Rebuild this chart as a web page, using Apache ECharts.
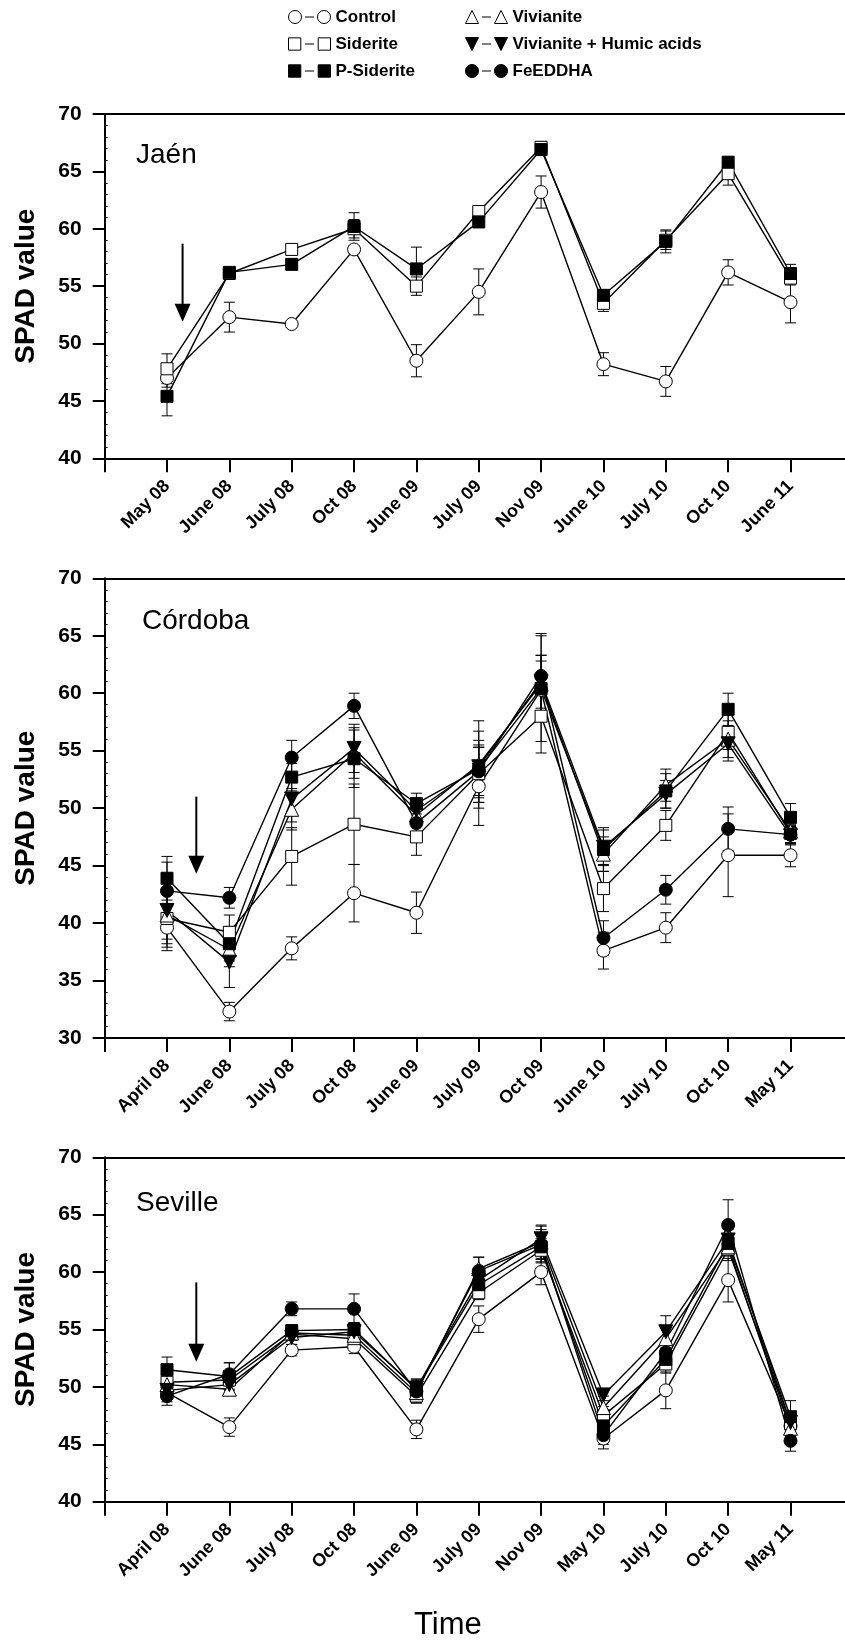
<!DOCTYPE html>
<html><head><meta charset="utf-8">
<script src="https://cdn.jsdelivr.net/npm/echarts@6/dist/echarts.min.js"></script>
<style>html,body{margin:0;padding:0;background:#fff}#c{width:845px;height:1641px}</style>
</head><body><div id="c"></div>
<script>
// ---------- DATA ----------
const treatments = ['Control','Siderite','P-Siderite','Vivianite','Vivianite + Humic acids','FeEDDHA'];

const jaenCats    = ['May 08','June 08','July 08','Oct 08','June 09','July 09','Nov 09','June 10','July 10','Oct 10','June 11'];
const cordobaCats = ['April 08','June 08','July 08','Oct 08','June 09','July 09','Oct 09','June 10','July 10','Oct 10','May 11'];
const sevilleCats = ['April 08','June 08','July 08','Oct 08','June 09','July 09','Nov 09','May 10','July 10','Oct 10','May 11'];

const yTicksJaen = [40,45,50,55,60,65,70];
const yTicksCordoba = [30,35,40,45,50,55,60,65,70];
const yTicksSeville = [40,45,50,55,60,65,70];

// Jaén
const jaenControl   = [47.0,52.3,51.7,58.2,48.5,54.5,63.2,48.2,46.7,56.2,53.6];
const jaenControlSE = [0.8,1.3,0.3,0.3,1.4,2.0,1.4,1.0,1.3,1.1,1.8];
const jaenSiderite   = [47.8,56.1,58.2,60.0,55.0,61.5,67.1,53.5,59.0,64.8,55.7];
const jaenSideriteSE = [1.3,0.3,0.3,0.8,0.8,0.5,0.5,0.7,0.8,1.0,0.6];
const jaenPSiderite   = [45.4,56.2,56.9,60.2,56.5,60.6,66.9,54.2,58.9,65.8,56.1];
const jaenPSideriteSE = [1.7,0.3,0.3,1.2,1.9,0.5,0.5,0.5,1.0,0.4,0.8];

// Córdoba
const cordControl   = [39.6,32.3,37.8,42.6,40.9,51.9,60.3,37.6,39.6,45.9,45.9];
const cordControlSE = [2.0,0.8,1.0,2.5,1.8,3.4,2.5,1.6,1.3,3.6,1.0];
const cordSiderite   = [40.4,39.2,45.8,48.6,47.5,53.0,58.0,43.0,48.5,56.6,47.8];
const cordSideriteSE = [2.2,1.5,2.5,3.5,1.6,2.5,3.2,2.0,1.3,1.5,0.8];
const cordPSiderite   = [43.9,38.2,52.7,54.3,50.4,53.4,60.4,46.4,51.5,58.6,49.2];
const cordPSideriteSE = [1.9,1.5,1.2,2.5,0.9,2.5,4.6,1.9,1.5,1.4,1.2];
const cordVivianite   = [40.7,37.7,49.9,54.8,49.4,53.8,60.8,46.0,52.0,56.0,48.0];
const cordVivianiteSE = [2.8,1.5,1.8,2.2,1.0,3.8,2.5,1.5,1.4,1.6,1.0];
const cordVivHA   = [41.1,36.6,50.8,55.2,49.8,53.6,61.0,46.6,51.2,55.6,47.6];
const cordVivHASE = [2.5,2.2,2.0,2.1,1.0,3.1,2.3,1.5,1.2,1.5,0.8];
const cordFe   = [42.8,42.2,54.4,58.9,48.7,53.2,61.5,38.7,42.9,48.2,47.7];
const cordFeSE = [2.5,0.9,1.5,1.1,1.5,2.1,3.7,1.5,1.25,1.9,0.8];

// Seville
const sevControl   = [49.5,46.5,53.2,53.5,46.3,55.9,60.0,45.5,49.7,59.3,46.6];
const sevControlSE = [0.8,0.8,0.5,0.6,0.8,1.15,1.1,0.9,1.6,1.9,0.8];
const sevSiderite   = [50.4,50.6,54.6,54.2,49.2,58.2,61.9,47.5,52.0,62.0,46.8];
const sevSideriteSE = [1.0,0.8,0.5,0.8,0.6,0.6,1.0,0.8,0.8,1.0,0.7];
const sevPSiderite   = [51.5,50.9,54.9,55.0,49.8,58.9,62.2,46.6,52.4,62.5,47.4];
const sevPSideriteSE = [1.1,1.2,0.5,0.6,0.9,0.6,1.0,0.8,0.9,0.7,1.4];
const sevVivianite   = [50.2,49.8,54.7,54.5,49.5,60.3,62.6,48.2,54.2,62.2,46.4];
const sevVivianiteSE = [0.9,0.5,0.6,0.7,0.8,1.0,1.1,1.0,1.0,0.8,0.7];
const sevVivHA   = [49.7,50.2,54.3,54.8,49.9,59.3,62.9,49.3,54.8,62.8,46.9];
const sevVivHASE = [0.8,0.8,0.6,0.8,0.7,0.8,1.2,0.5,1.4,0.9,0.8];
const sevFe   = [49.2,51.1,56.8,56.8,49.6,60.1,62.4,45.8,53.0,64.1,45.3];
const sevFeSE = [0.8,1.0,0.6,1.3,1.0,1.2,1.6,0.8,0.8,2.2,0.9];

// treatment application arrows: [x position in category units, top value, tip value]
const arrowJaen    = [1.25, 58.7, 51.9];
const arrowCordoba = [1.47, 51.0, 44.3];
const arrowSeville = [1.47, 59.1, 52.2];

const panelTitles = ['Jaén','Córdoba','Seville'];

// ---------- STYLE / LAYOUT ----------
const FONT = "'Liberation Sans', Arial, Helvetica, sans-serif";
const grids = [
  {left:104.65, width:748.2, top:114, height:344.3},
  {left:104.65, width:748.2, top:578.3, height:459.7},
  {left:104.65, width:748.2, top:1157.3, height:344.4}
];
const styleOf = {
  'Control':   {symbol:'circle',   size:13, rotate:0,   fill:'#fff'},
  'Siderite':  {symbol:'rect',     size:12, rotate:0,   fill:'#fff'},
  'P-Siderite':{symbol:'rect',     size:12, rotate:0,   fill:'#000'},
  'Vivianite': {symbol:'triangle', size:14, rotate:0,   fill:'#fff'},
  'Vivianite + Humic acids': {symbol:'triangle', size:14, rotate:180, fill:'#000'},
  'FeEDDHA':   {symbol:'circle',   size:13, rotate:0,   fill:'#000'}
};
const icons = {
  'Control':   'path://M0,6.5a6.5,6.5 0 1,0 13,0a6.5,6.5 0 1,0 -13,0M16.5,6.5L25.5,6.5M29,6.5a6.5,6.5 0 1,0 13,0a6.5,6.5 0 1,0 -13,0',
  'Siderite':  'path://M0.5,0.5L12.5,0.5L12.5,12.5L0.5,12.5ZM16.5,6.5L25.5,6.5M29.5,0.5L41.5,0.5L41.5,12.5L29.5,12.5Z',
  'P-Siderite':'path://M0.5,0.5L12.5,0.5L12.5,12.5L0.5,12.5ZM16.5,6.5L25.5,6.5M29.5,0.5L41.5,0.5L41.5,12.5L29.5,12.5Z',
  'Vivianite': 'path://M6.5,0L13,13L0,13ZM16.5,6.5L25.5,6.5M35.5,0L42,13L29,13Z',
  'Vivianite + Humic acids': 'path://M0,0L13,0L6.5,13ZM16.5,6.5L25.5,6.5M29,0L42,0L35.5,13Z',
  'FeEDDHA':   'path://M0,6.5a6.5,6.5 0 1,0 13,0a6.5,6.5 0 1,0 -13,0M16.5,6.5L25.5,6.5M29,6.5a6.5,6.5 0 1,0 13,0a6.5,6.5 0 1,0 -13,0'
};

const panels = [
  {cats:jaenCats, ticks:yTicksJaen, arrow:arrowJaen, data:[
    ['Control',jaenControl,jaenControlSE],['Siderite',jaenSiderite,jaenSideriteSE],['P-Siderite',jaenPSiderite,jaenPSideriteSE]]},
  {cats:cordobaCats, ticks:yTicksCordoba, arrow:arrowCordoba, data:[
    ['Control',cordControl,cordControlSE],['Siderite',cordSiderite,cordSideriteSE],['Vivianite',cordVivianite,cordVivianiteSE],
    ['Vivianite + Humic acids',cordVivHA,cordVivHASE],['P-Siderite',cordPSiderite,cordPSideriteSE],['FeEDDHA',cordFe,cordFeSE]]},
  {cats:sevilleCats, ticks:yTicksSeville, arrow:arrowSeville, data:[
    ['Control',sevControl,sevControlSE],['Siderite',sevSiderite,sevSideriteSE],['Vivianite',sevVivianite,sevVivianiteSE],
    ['Vivianite + Humic acids',sevVivHA,sevVivHASE],['P-Siderite',sevPSiderite,sevPSideriteSE],['FeEDDHA',sevFe,sevFeSE]]}
];

function errRender(params, api){
  const x = api.value(0), lo = api.value(1), hi = api.value(2);
  const p1 = api.coord([x, lo]), p2 = api.coord([x, hi]);
  const hw = 5.5, st = {stroke:'#000', lineWidth:1};
  return {type:'group', children:[
    {type:'line', shape:{x1:p1[0],y1:p1[1],x2:p2[0],y2:p2[1]}, style:st},
    {type:'line', shape:{x1:p1[0]-hw,y1:p1[1],x2:p1[0]+hw,y2:p1[1]}, style:st},
    {type:'line', shape:{x1:p2[0]-hw,y1:p2[1],x2:p2[0]+hw,y2:p2[1]}, style:st}
  ]};
}
function arrowRender(params, api){
  const x = api.value(0);
  const pT = api.coord([x, api.value(1)]), pB = api.coord([x, api.value(2)]);
  const hh = 18, hw = 8;
  return {type:'group', children:[
    {type:'line', shape:{x1:pT[0],y1:pT[1],x2:pB[0],y2:pB[1]-hh+1}, style:{stroke:'#000', lineWidth:2}},
    {type:'polygon', shape:{points:[[pB[0]-hw,pB[1]-hh],[pB[0]+hw,pB[1]-hh],[pB[0],pB[1]]]}, style:{fill:'#000'}}
  ]};
}

const xAxis = [], yAxis = [], series = [], title = [];
panels.forEach((p, g) => {
  xAxis.push({type:'value', gridIndex:g, min:0, max:12, interval:1, position:'bottom',
    axisLine:{show:true, onZero:false, lineStyle:{color:'#000', width:2}},
    axisTick:{show:true, length:14, lineStyle:{color:'#000', width:2}},
    splitLine:{show:false},
    axisLabel:{rotate:45, margin:25, color:'#000', fontSize:18, fontWeight:'bold', fontFamily:FONT,
      formatter:(v)=> p.cats[v-1] || ''}
  });
  xAxis.push({type:'value', gridIndex:g, min:0, max:12, position:'top',
    axisLine:{show:true, onZero:false, lineStyle:{color:'#000', width:2}},
    axisTick:{show:false}, axisLabel:{show:false}, splitLine:{show:false}});
  yAxis.push({type:'value', gridIndex:g, min:p.ticks[0], max:p.ticks[p.ticks.length-1], interval:5, position:'left',
    axisLine:{show:true, onZero:false, lineStyle:{color:'#000', width:2}},
    axisTick:{show:true, length:12, lineStyle:{color:'#000', width:2}},
    splitLine:{show:false},
    axisLabel:{margin:23, color:'#000', fontSize:21, fontWeight:'bold', fontFamily:FONT},
    name:'SPAD value', nameLocation:'middle', nameGap:64,
    nameTextStyle:{color:'#000', fontSize:28, fontWeight:'bold', fontFamily:FONT}
  });
  yAxis.push({type:'value', gridIndex:g, min:p.ticks[0], max:p.ticks[p.ticks.length-1], interval:5, position:'left',
    axisLine:{show:false}, axisTick:{show:false, inside:true},
    minorTick:{show:true, splitNumber:5, length:3, lineStyle:{color:'#000', width:1}},
    axisLabel:{show:false}, splitLine:{show:false}});

  p.data.forEach(([name, vals, se]) => {
    series.push({type:'custom', name:name, xAxisIndex:2*g, yAxisIndex:2*g, z:2, clip:false,
      renderItem:errRender, encode:{x:0, y:[1,2]},
      data: vals.map((v,i)=>[i+1, +(v-se[i]).toFixed(2), +(v+se[i]).toFixed(2)]), silent:true});
  });
  p.data.forEach(([name, vals]) => {
    const s = styleOf[name];
    series.push({type:'line', name:name, xAxisIndex:2*g, yAxisIndex:2*g, z:3,
      symbol:s.symbol, symbolSize:s.size, symbolRotate:s.rotate, showAllSymbol:true,
      itemStyle:{color:s.fill, borderColor:'#000', borderWidth:1, opacity:1},
      lineStyle:{color:'#000', width:1.4},
      emphasis:{disabled:true},
      data: vals.map((v,i)=>[i+1, v])});
  });
  series.push({type:'custom', xAxisIndex:2*g, yAxisIndex:2*g, z:4, clip:false, silent:true,
    renderItem:arrowRender, encode:{x:0, y:[1,2]}, data:[p.arrow]});
});

const titleTops = [141, 607, 1189];
const titleLefts = [136, 142, 136];
panelTitles.forEach((t, g) => {
  title.push({text:t, left:titleLefts[g], top:titleTops[g], padding:0,
    textStyle:{color:'#000', fontSize:28, fontWeight:'normal', fontFamily:FONT}});
});
title.push({text:'Time', left:414, top:1610, padding:0,
  textStyle:{color:'#000', fontSize:31, fontWeight:'normal', fontFamily:FONT}});

function legendItems(names){
  return names.map(n => ({name:n, icon:icons[n],
    itemStyle:{color:styleOf[n].fill, borderColor:'#000', borderWidth:1}}));
}
const legendCommon = {orient:'vertical', itemWidth:42, itemHeight:13, itemGap:10, padding:0,
  selectedMode:false, textStyle:{color:'#000', fontSize:17, fontWeight:'bold', fontFamily:FONT}};

const chart = echarts.init(document.getElementById('c'), null, {renderer:'canvas'});
chart.setOption({
  animation:false,
  backgroundColor:'#fff',
  title: title,
  legend:[
    Object.assign({left:288, top:8.5, data:legendItems(['Control','Siderite','P-Siderite'])}, legendCommon),
    Object.assign({left:465, top:8.5, data:legendItems(['Vivianite','Vivianite + Humic acids','FeEDDHA'])}, legendCommon)
  ],
  grid: grids.map(g => Object.assign({outerBoundsMode:'none', containLabel:false}, g)),
  xAxis: xAxis,
  yAxis: yAxis,
  series: series
});
</script></body></html>
